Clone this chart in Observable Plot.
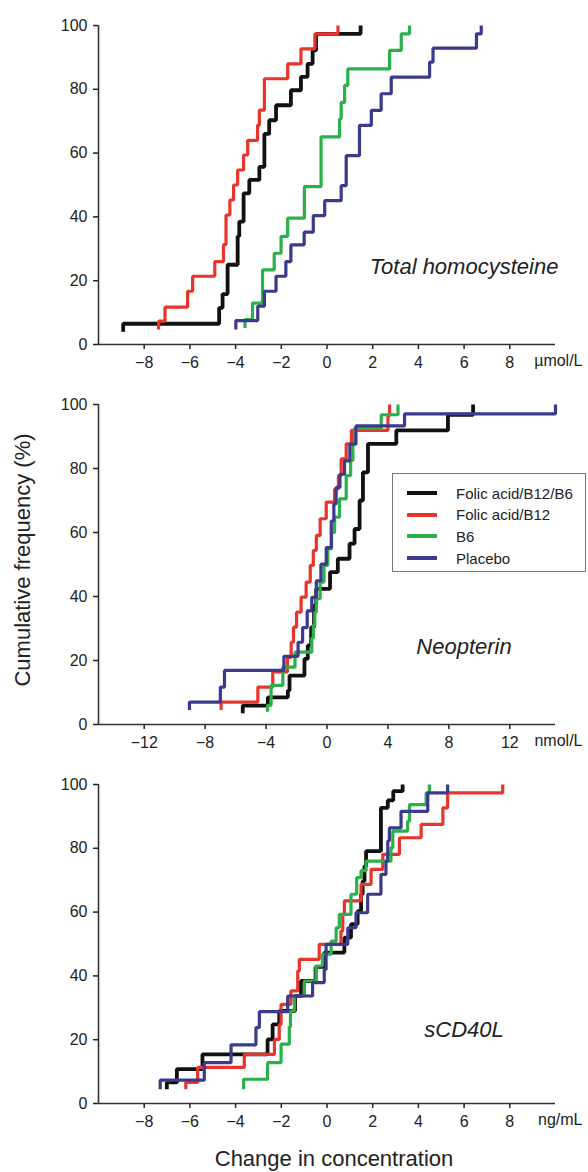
<!DOCTYPE html>
<html><head><meta charset="utf-8">
<script src="https://cdn.jsdelivr.net/npm/d3@7"></script>
<script src="https://cdn.jsdelivr.net/npm/@observablehq/plot@0.6"></script>
<style>
body{margin:0;background:#fff;font-family:"Liberation Sans",Arial,sans-serif;}
#wrap{position:relative;width:588px;height:1172px;overflow:hidden;background:#fff;}
.panel{position:absolute;left:0;}
.lab{position:absolute;font-style:italic;font-size:22px;color:#222;white-space:nowrap;transform:translate(-50%,-50%);}
.title{position:absolute;font-size:22px;color:#222;white-space:nowrap;transform:translate(-50%,-50%);}
#legend{position:absolute;left:392px;top:473px;width:192px;height:97px;border:1.5px solid #777;background:#fff;}
.row{position:absolute;left:14px;height:20px;font-size:15px;color:#222;display:flex;align-items:center;}
.sw{width:30px;height:4px;margin-right:19px;}
</style></head><body><div id="wrap"></div>
<script>
const groups = ["Folic acid/B12/B6", "Folic acid/B12", "B6", "Placebo"];
const groupColors = ["#111111", "#e8352b", "#2bb04a", "#3b3a8c"];
const yTicks = [0, 20, 40, 60, 80, 100];
const tickLabelsA = [-8, -6, -4, -2, 0, 2, 4, 6, 8];
const tickLabelsB = [-12, -8, -4, 0, 4, 8, 12];

// Total homocysteine (µmol/L)
const hcyFolB12B6X = [-8.92,-8.92,-4.72,-4.57,-4.35,-3.91,-3.84,-3.65,-3.40,-2.96,-2.74,-2.53,-2.23,-1.58,-1.14,-0.85,-0.63,-0.48,1.47];
const hcyFolB12B6Y = [4,6.5,11.5,15.8,25,33.9,38.5,47.4,51.6,55.7,66,70.3,75,79.7,83.9,88,92.2,97.4,100];
const hcyFolB12X = [-7.37,-7.37,-7.09,-6.10,-5.88,-4.91,-4.53,-4.42,-4.25,-4.09,-3.91,-3.65,-3.47,-3.04,-2.96,-2.74,-1.72,-1.14,-0.53,0.48];
const hcyFolB12Y = [4.7,7.3,11.7,16.7,21.4,26,31.3,40.6,45.3,50,54.7,59.4,64,68.75,73.5,83.3,88,92.7,97.4,100];
const hcyB6X = [-3.59,-3.59,-3.26,-2.82,-2.31,-2.01,-1.72,-0.99,-0.26,0.55,0.62,0.77,0.91,2.74,3.25,3.61];
const hcyB6Y = [5.2,7.8,13,23.4,28.6,33.9,39.6,49.5,65.1,70.7,75.9,81.2,86.4,92.2,97.4,100];
const hcyPlaceboX = [-3.99,-3.99,-3.03,-2.74,-2.23,-1.80,-1.58,-1.0,-0.6,-0.1,0.62,0.84,1.42,1.94,2.37,2.81,4.49,4.64,6.54,6.75];
const hcyPlaceboY = [4.7,7.5,12,16.7,21.4,26,31.25,35.2,40.4,45.1,49.8,59.2,68.7,73.4,78.6,83.8,88.5,92.9,97.4,100];

// Neopterin (nmol/L)
const neoFolB12B6X = [-5.53,-5.53,-3.88,-2.57,-2.46,-1.48,-1.26,-1.04,-0.85,-0.71,0.2,0.71,1.48,1.81,2.14,2.36,2.69,4.55,7.94,9.59];
const neoFolB12B6Y = [3.5,5.9,8.5,10.6,15.3,20.5,24.7,30.4,37.2,42.4,47.6,51.8,56.5,61.1,70,78.8,87.7,91.9,96.8,100];
const neoFolB12X = [-6.95,-6.95,-4.54,-3.56,-2.6,-2.35,-2.2,-2.0,-1.7,-1.37,-1.1,-0.9,-0.7,-0.45,-0.05,0.5,0.75,0.93,1.26,1.6,4.0,4.11];
const neoFolB12Y = [4.5,7.0,11.7,16.4,21,25.7,30.4,35.1,39.8,44.5,49.7,54.4,59.1,64.3,69.5,73.6,77.8,83.0,87.7,91.9,96.5,100];
const neoB6X = [-3.9,-3.9,-3.67,-2.9,-2.1,-1.0,-0.9,-0.8,-0.7,-0.45,-0.2,0.05,0.3,0.5,0.82,1.26,1.55,1.7,1.81,3.56,4.66];
const neoB6Y = [4,6,12.2,17.9,22.6,27,31,35.1,39.3,44.5,49.7,54.9,60,64.8,70.5,77.8,82.5,87.7,92.6,96.8,100];
const neoPlaceboX = [-9.03,-9.03,-7.0,-6.73,-2.83,-1.9,-1.6,-1.3,-1.0,-0.7,-0.4,-0.05,0.28,0.45,0.6,0.85,1.15,1.5,1.9,5.09,15.0];
const neoPlaceboY = [4.5,7.0,11.7,16.9,21.3,25.7,30.3,35.5,39.7,44.9,50.1,55.3,63.6,68.9,74.1,78.2,82.4,87.6,93.3,97.1,100];

// sCD40L (ng/mL)
const cdFolB12B6X = [-7.01,-7.01,-6.57,-5.45,-2.60,-2.38,-2.09,-1.4,-1.14,-0.5,-0.12,0.76,1.05,1.34,1.49,1.56,1.64,1.71,2.36,2.66,2.9,3.31];
const cdFolB12B6Y = [4.5,6.6,10.8,15.4,20.1,24.8,29.0,33.7,38.4,42.8,47.3,52,56.2,60.3,65.6,69.7,74.4,79.1,92.7,95,97.9,100];
const cdFolB12X = [-6.18,-6.18,-5.66,-3.62,-2.3,-2.09,-2.01,-1.58,-1.28,-1.21,-0.34,0.61,0.69,0.76,1.49,1.93,2.44,3.17,4.12,5.07,5.28,7.69];
const cdFolB12Y = [4.5,6.6,11.3,15.4,20.1,24.8,31.1,35.3,41.5,45.2,49.9,54.1,59.3,63.5,68.7,73.4,78.1,83.3,87.5,92.7,97.4,100];
const cdB6X = [-3.65,-3.65,-2.60,-2.01,-1.65,-1.6,-1.43,-0.99,-0.48,-0.2,0.18,0.4,0.54,1.05,1.3,1.49,1.71,2.80,2.88,3.53,3.61,4.34,4.48];
const cdB6Y = [4.5,7.6,12.8,18.6,24,29.0,33.7,38.4,43.1,46.8,50.9,55.1,59.3,65.6,70.8,73,76.0,80.2,85.4,88.5,93.7,97.4,100];
const cdPlaceboX = [-7.30,-7.30,-5.37,-4.20,-3.11,-2.96,-1.72,-0.63,-0.12,-0.04,0.91,1.27,1.78,2.36,2.58,2.66,2.73,3.24,4.41,5.28];
const cdPlaceboY = [4.5,7.3,12.8,18.4,23.8,28.8,33.7,37.9,42,49.9,55.1,59.8,65.6,71.8,76,82.3,86.4,91.6,97.4,100];

const panels = [
  {top: 0, height: 384, mt: 25, mb: 40, domain: [-10, 10], ticks: tickLabelsA, unit: "µmol/L", name: "Total homocysteine", labY: 267,
   series: [[hcyFolB12B6X, hcyFolB12B6Y], [hcyFolB12X, hcyFolB12Y], [hcyB6X, hcyB6Y], [hcyPlaceboX, hcyPlaceboY]]},
  {top: 384, height: 380, mt: 20, mb: 40, domain: [-15, 15], ticks: tickLabelsB, unit: "nmol/L", name: "Neopterin", labY: 647,
   series: [[neoFolB12B6X, neoFolB12B6Y], [neoFolB12X, neoFolB12Y], [neoB6X, neoB6Y], [neoPlaceboX, neoPlaceboY]]},
  {top: 764, height: 380, mt: 20, mb: 41, domain: [-10, 10], ticks: tickLabelsA, unit: "ng/mL", name: "sCD40L", labY: 1030,
   series: [[cdFolB12B6X, cdFolB12B6Y], [cdFolB12X, cdFolB12Y], [cdB6X, cdB6Y], [cdPlaceboX, cdPlaceboY]]}
];

const wrap = document.getElementById("wrap");

panels.forEach(p => {
  const lines = p.series.map((s, gi) => {
    const rows = s[0].map((x, i) => ({x, y: s[1][i], group: groups[gi]}));
    return Plot.line(rows, {x: "x", y: "y", curve: "step-after", stroke: groupColors[gi],
      strokeWidth: gi === 0 ? 3.8 : 3.2, strokeLinejoin: "miter", strokeLinecap: "butt"});
  });
  const chart = Plot.plot({
    width: 588, height: p.height,
    marginLeft: 98, marginRight: 33, marginTop: p.mt, marginBottom: p.mb,
    style: {fontFamily: "Liberation Sans, Arial, sans-serif", fontSize: "16px", color: "#222", background: "transparent", overflow: "visible"},
    x: {domain: p.domain},
    y: {domain: [0, 100]},
    marks: [
      Plot.axisY({ticks: yTicks, tickSize: 5, tickPadding: 6, label: null, strokeWidth: 1.5, fontSize: 16}),
      Plot.axisX({ticks: p.ticks, tickSize: 5, tickPadding: 7, label: null, strokeWidth: 1.5, fontSize: 16}),
      ...lines,
      Plot.ruleX([p.domain[0]], {stroke: "#333", strokeWidth: 1.6}),
      Plot.ruleY([0], {stroke: "#333", strokeWidth: 1.6}),
      Plot.text([p.unit], {frameAnchor: "bottom-right", dx: 27, dy: 21, textAnchor: "end", fontSize: 16, fill: "#222"})
    ]
  });
  chart.classList.add("panel");
  chart.style.top = p.top + "px";
  wrap.appendChild(chart);
  const lab = document.createElement("div");
  lab.className = "lab";
  lab.textContent = p.name;
  lab.style.left = "464px";
  lab.style.top = p.labY + "px";
  wrap.appendChild(lab);
});

// Legend
const legend = document.createElement("div");
legend.id = "legend";
groups.forEach((g, i) => {
  const row = document.createElement("div");
  row.className = "row";
  row.style.top = (9 + i * 21.7) + "px";
  const sw = document.createElement("div");
  sw.className = "sw";
  sw.style.background = groupColors[i];
  const t = document.createElement("span");
  t.textContent = g;
  row.appendChild(sw); row.appendChild(t);
  legend.appendChild(row);
});
wrap.appendChild(legend);

// Axis titles
const yt = document.createElement("div");
yt.className = "title";
yt.textContent = "Cumulative frequency (%)";
yt.style.left = "23px"; yt.style.top = "560px";
yt.style.transform = "translate(-50%,-50%) rotate(-90deg)";
wrap.appendChild(yt);
const xt = document.createElement("div");
xt.className = "title";
xt.textContent = "Change in concentration";
xt.style.left = "334px"; xt.style.top = "1159px";
wrap.appendChild(xt);
</script>
</body></html>
